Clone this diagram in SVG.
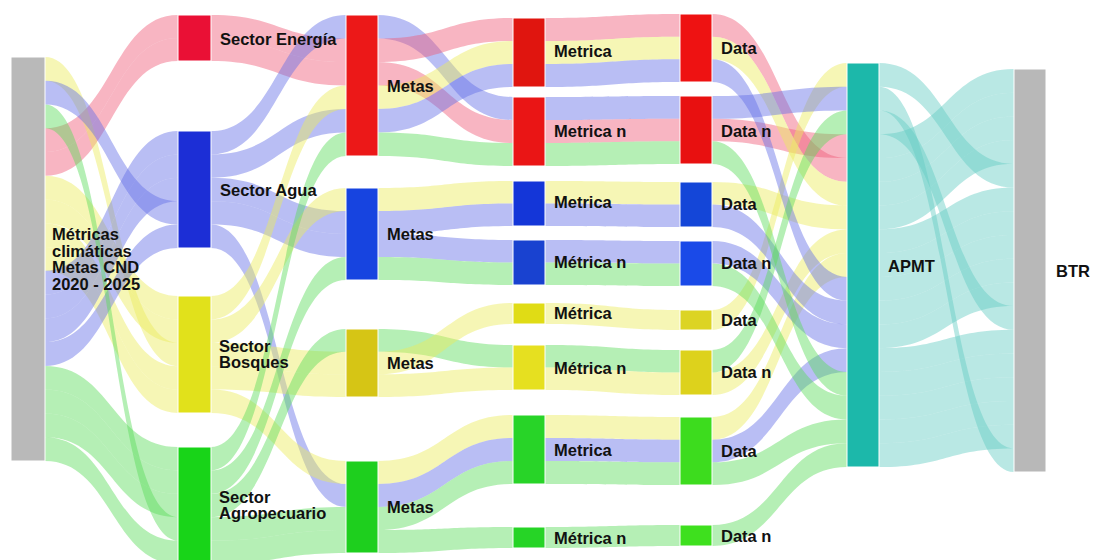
<svg xmlns="http://www.w3.org/2000/svg" width="1093" height="560" viewBox="0 0 1093 560">
<style>
.l{stroke:none;fill-opacity:0.45}
.p{fill:#f05a78}.b{fill:#646ee6}.y{fill:#ebeb5a}.g{fill:#5adc5a}.t{fill:#63ccc3}
.n{stroke:#ffffff;stroke-width:1}
text{font-family:"Liberation Sans",Arial,sans-serif;font-weight:bold;font-size:16.5px;fill:#111111}
</style>
<rect width="1093" height="560" fill="#ffffff"/>
<g id="connectors">
<g id="stage1">
<path class="l p" d="M45 128.3C111.5 128.3 111.5 15 178 15L178 38C111.5 38 111.5 152 45 152Z"/>
<path class="l p" d="M45 152C111.5 152 111.5 38 178 38L178 61C111.5 61 111.5 175.8 45 175.8Z"/>
<path class="l y" d="M45 57C111.5 57 111.5 342.8 178 342.8L178 366.2C111.5 366.2 111.5 80.8 45 80.8Z"/>
<path class="l y" d="M45 175.8C111.5 175.8 111.5 296 178 296L178 319.4C111.5 319.4 111.5 199.6 45 199.6Z"/>
<path class="l y" d="M45 199.6C111.5 199.6 111.5 319.4 178 319.4L178 342.8C111.5 342.8 111.5 223.3 45 223.3Z"/>
<path class="l y" d="M45 223.3C111.5 223.3 111.5 366.2 178 366.2L178 389.6C111.5 389.6 111.5 247.1 45 247.1Z"/>
<path class="l y" d="M45 247.1C111.5 247.1 111.5 389.6 178 389.6L178 413C111.5 413 111.5 270.8 45 270.8Z"/>
<path class="l b" d="M45 80.8C111.5 80.8 111.5 201.2 178 201.2L178 224.6C111.5 224.6 111.5 104.5 45 104.5Z"/>
<path class="l b" d="M45 270.8C111.5 270.8 111.5 131 178 131L178 154.4C111.5 154.4 111.5 294.6 45 294.6Z"/>
<path class="l b" d="M45 294.6C111.5 294.6 111.5 154.4 178 154.4L178 177.8C111.5 177.8 111.5 318.4 45 318.4Z"/>
<path class="l b" d="M45 318.4C111.5 318.4 111.5 177.8 178 177.8L178 201.2C111.5 201.2 111.5 342.1 45 342.1Z"/>
<path class="l b" d="M45 342.1C111.5 342.1 111.5 224.6 178 224.6L178 248C111.5 248 111.5 365.9 45 365.9Z"/>
<path class="l g" d="M45 104.5C111.5 104.5 111.5 517.2 178 517.2L178 540.6C111.5 540.6 111.5 128.3 45 128.3Z"/>
<path class="l g" d="M45 365.9C111.5 365.9 111.5 447 178 447L178 470.4C111.5 470.4 111.5 389.6 45 389.6Z"/>
<path class="l g" d="M45 389.6C111.5 389.6 111.5 470.4 178 470.4L178 493.8C111.5 493.8 111.5 413.4 45 413.4Z"/>
<path class="l g" d="M45 413.4C111.5 413.4 111.5 493.8 178 493.8L178 517.2C111.5 517.2 111.5 437.2 45 437.2Z"/>
<path class="l g" d="M45 437.2C111.5 437.2 111.5 540.6 178 540.6L178 564C111.5 564 111.5 461 45 461Z"/>
</g>
<g id="stage2">
<path class="l p" d="M211 15C278.5 15 278.5 38.5 346 38.5L346 62C278.5 62 278.5 38 211 38Z"/>
<path class="l p" d="M211 38C278.5 38 278.5 62 346 62L346 85.5C278.5 85.5 278.5 61 211 61Z"/>
<path class="l b" d="M211 131C278.5 131 278.5 15 346 15L346 38.5C278.5 38.5 278.5 154.4 211 154.4Z"/>
<path class="l b" d="M211 154.4C278.5 154.4 278.5 109 346 109L346 132.5C278.5 132.5 278.5 177.8 211 177.8Z"/>
<path class="l b" d="M211 177.8C278.5 177.8 278.5 211 346 211L346 234C278.5 234 278.5 201.2 211 201.2Z"/>
<path class="l b" d="M211 201.2C278.5 201.2 278.5 234 346 234L346 257C278.5 257 278.5 224.6 211 224.6Z"/>
<path class="l b" d="M211 224.6C278.5 224.6 278.5 484 346 484L346 507C278.5 507 278.5 248 211 248Z"/>
<path class="l y" d="M211 296C278.5 296 278.5 85.5 346 85.5L346 109C278.5 109 278.5 319.4 211 319.4Z"/>
<path class="l y" d="M211 319.4C278.5 319.4 278.5 188 346 188L346 211C278.5 211 278.5 342.8 211 342.8Z"/>
<path class="l y" d="M211 342.8C278.5 342.8 278.5 351.7 346 351.7L346 374.3C278.5 374.3 278.5 366.2 211 366.2Z"/>
<path class="l y" d="M211 366.2C278.5 366.2 278.5 374.3 346 374.3L346 397C278.5 397 278.5 389.6 211 389.6Z"/>
<path class="l y" d="M211 389.6C278.5 389.6 278.5 461 346 461L346 484C278.5 484 278.5 413 211 413Z"/>
<path class="l g" d="M211 447C278.5 447 278.5 132.5 346 132.5L346 156C278.5 156 278.5 470.4 211 470.4Z"/>
<path class="l g" d="M211 470.4C278.5 470.4 278.5 257 346 257L346 280C278.5 280 278.5 493.8 211 493.8Z"/>
<path class="l g" d="M211 493.8C278.5 493.8 278.5 329 346 329L346 351.7C278.5 351.7 278.5 517.2 211 517.2Z"/>
<path class="l g" d="M211 517.2C278.5 517.2 278.5 507 346 507L346 530C278.5 530 278.5 540.6 211 540.6Z"/>
<path class="l g" d="M211 540.6C278.5 540.6 278.5 530 346 530L346 553C278.5 553 278.5 564 211 564Z"/>
</g>
<g id="stage3">
<path class="l b" d="M378 15C445.5 15 445.5 97 513 97L513 120C445.5 120 445.5 38.5 378 38.5Z"/>
<path class="l p" d="M378 38.5C445.5 38.5 445.5 18 513 18L513 41C445.5 41 445.5 62 378 62Z"/>
<path class="l p" d="M378 62C445.5 62 445.5 120 513 120L513 143C445.5 143 445.5 85.5 378 85.5Z"/>
<path class="l y" d="M378 85.5C445.5 85.5 445.5 41 513 41L513 64C445.5 64 445.5 109 378 109Z"/>
<path class="l b" d="M378 109C445.5 109 445.5 64 513 64L513 87C445.5 87 445.5 132.5 378 132.5Z"/>
<path class="l g" d="M378 132.5C445.5 132.5 445.5 143 513 143L513 166C445.5 166 445.5 156 378 156Z"/>
<path class="l y" d="M378 188C445.5 188 445.5 181 513 181L513 203.5C445.5 203.5 445.5 211 378 211Z"/>
<path class="l b" d="M378 211C445.5 211 445.5 203.5 513 203.5L513 226C445.5 226 445.5 234 378 234Z"/>
<path class="l b" d="M378 234C445.5 234 445.5 240 513 240L513 262.5C445.5 262.5 445.5 257 378 257Z"/>
<path class="l g" d="M378 257C445.5 257 445.5 262.5 513 262.5L513 285C445.5 285 445.5 280 378 280Z"/>
<path class="l g" d="M378 329C445.5 329 445.5 345 513 345L513 367.5C445.5 367.5 445.5 351.7 378 351.7Z"/>
<path class="l y" d="M378 351.7C445.5 351.7 445.5 303 513 303L513 324C445.5 324 445.5 374.3 378 374.3Z"/>
<path class="l y" d="M378 374.3C445.5 374.3 445.5 367.5 513 367.5L513 390C445.5 390 445.5 397 378 397Z"/>
<path class="l y" d="M378 461C445.5 461 445.5 415 513 415L513 438C445.5 438 445.5 484 378 484Z"/>
<path class="l b" d="M378 484C445.5 484 445.5 438 513 438L513 461C445.5 461 445.5 507 378 507Z"/>
<path class="l g" d="M378 507C445.5 507 445.5 461 513 461L513 484C445.5 484 445.5 530 378 530Z"/>
<path class="l g" d="M378 530C445.5 530 445.5 527 513 527L513 548C445.5 548 445.5 553 378 553Z"/>
</g>
<g id="stage4">
<path class="l p" d="M545 18C612.5 18 612.5 14 680 14L680 36.7C612.5 36.7 612.5 41 545 41Z"/>
<path class="l y" d="M545 41C612.5 41 612.5 36.7 680 36.7L680 59.3C612.5 59.3 612.5 64 545 64Z"/>
<path class="l b" d="M545 64C612.5 64 612.5 59.3 680 59.3L680 82C612.5 82 612.5 87 545 87Z"/>
<path class="l b" d="M545 97C612.5 97 612.5 96 680 96L680 118.7C612.5 118.7 612.5 120 545 120Z"/>
<path class="l p" d="M545 120C612.5 120 612.5 118.7 680 118.7L680 141.3C612.5 141.3 612.5 143 545 143Z"/>
<path class="l g" d="M545 143C612.5 143 612.5 141.3 680 141.3L680 164C612.5 164 612.5 166 545 166Z"/>
<path class="l y" d="M545 181C612.5 181 612.5 182 680 182L680 204.5C612.5 204.5 612.5 203.5 545 203.5Z"/>
<path class="l b" d="M545 203.5C612.5 203.5 612.5 204.5 680 204.5L680 227C612.5 227 612.5 226 545 226Z"/>
<path class="l b" d="M545 240C612.5 240 612.5 241 680 241L680 263.5C612.5 263.5 612.5 262.5 545 262.5Z"/>
<path class="l g" d="M545 262.5C612.5 262.5 612.5 263.5 680 263.5L680 286C612.5 286 612.5 285 545 285Z"/>
<path class="l y" d="M545 303C612.5 303 612.5 310 680 310L680 330C612.5 330 612.5 324 545 324Z"/>
<path class="l g" d="M545 345C612.5 345 612.5 350 680 350L680 372.5C612.5 372.5 612.5 367.5 545 367.5Z"/>
<path class="l y" d="M545 367.5C612.5 367.5 612.5 372.5 680 372.5L680 395C612.5 395 612.5 390 545 390Z"/>
<path class="l y" d="M545 415C612.5 415 612.5 417 680 417L680 439.7C612.5 439.7 612.5 438 545 438Z"/>
<path class="l b" d="M545 438C612.5 438 612.5 439.7 680 439.7L680 462.3C612.5 462.3 612.5 461 545 461Z"/>
<path class="l g" d="M545 461C612.5 461 612.5 462.3 680 462.3L680 485C612.5 485 612.5 484 545 484Z"/>
<path class="l g" d="M545 527C612.5 527 612.5 525 680 525L680 546C612.5 546 612.5 548 545 548Z"/>
</g>
<g id="stage5">
<path class="l p" d="M712 14C779.5 14 779.5 158.1 847 158.1L847 181.8C779.5 181.8 779.5 36.7 712 36.7Z"/>
<path class="l p" d="M712 118.7C779.5 118.7 779.5 134.3 847 134.3L847 158.1C779.5 158.1 779.5 141.3 712 141.3Z"/>
<path class="l y" d="M712 310C779.5 310 779.5 63 847 63L847 86.8C779.5 86.8 779.5 330 712 330Z"/>
<path class="l y" d="M712 36.7C779.5 36.7 779.5 181.8 847 181.8L847 205.6C779.5 205.6 779.5 59.3 712 59.3Z"/>
<path class="l y" d="M712 182C779.5 182 779.5 205.6 847 205.6L847 229.4C779.5 229.4 779.5 204.5 712 204.5Z"/>
<path class="l y" d="M712 372.5C779.5 372.5 779.5 229.4 847 229.4L847 253.1C779.5 253.1 779.5 395 712 395Z"/>
<path class="l y" d="M712 417C779.5 417 779.5 253.1 847 253.1L847 276.9C779.5 276.9 779.5 439.7 712 439.7Z"/>
<path class="l b" d="M712 96C779.5 96 779.5 86.8 847 86.8L847 110.5C779.5 110.5 779.5 118.7 712 118.7Z"/>
<path class="l b" d="M712 59.3C779.5 59.3 779.5 276.9 847 276.9L847 300.6C779.5 300.6 779.5 82 712 82Z"/>
<path class="l b" d="M712 204.5C779.5 204.5 779.5 300.6 847 300.6L847 324.4C779.5 324.4 779.5 227 712 227Z"/>
<path class="l b" d="M712 241C779.5 241 779.5 324.4 847 324.4L847 348.2C779.5 348.2 779.5 263.5 712 263.5Z"/>
<path class="l b" d="M712 439.7C779.5 439.7 779.5 348.2 847 348.2L847 371.9C779.5 371.9 779.5 462.3 712 462.3Z"/>
<path class="l g" d="M712 350C779.5 350 779.5 110.5 847 110.5L847 134.3C779.5 134.3 779.5 372.5 712 372.5Z"/>
<path class="l g" d="M712 141.3C779.5 141.3 779.5 371.9 847 371.9L847 395.7C779.5 395.7 779.5 164 712 164Z"/>
<path class="l g" d="M712 263.5C779.5 263.5 779.5 395.7 847 395.7L847 419.5C779.5 419.5 779.5 286 712 286Z"/>
<path class="l g" d="M712 462.3C779.5 462.3 779.5 419.5 847 419.5L847 443.2C779.5 443.2 779.5 485 712 485Z"/>
<path class="l g" d="M712 525C779.5 525 779.5 443.2 847 443.2L847 467C779.5 467 779.5 546 712 546Z"/>
</g>
<g id="stage6">
<path class="l t" d="M879 63C946.5 63 946.5 163.8 1014 163.8L1014 187.6C946.5 187.6 946.5 86.8 879 86.8Z"/>
<path class="l t" d="M879 86.8C946.5 86.8 946.5 448.4 1014 448.4L1014 472C946.5 472 946.5 110.5 879 110.5Z"/>
<path class="l t" d="M879 110.5C946.5 110.5 946.5 306.1 1014 306.1L1014 329.8C946.5 329.8 946.5 134.3 879 134.3Z"/>
<path class="l t" d="M879 134.3C946.5 134.3 946.5 69 1014 69L1014 92.7C946.5 92.7 946.5 158.1 879 158.1Z"/>
<path class="l t" d="M879 158.1C946.5 158.1 946.5 92.7 1014 92.7L1014 116.4C946.5 116.4 946.5 181.8 879 181.8Z"/>
<path class="l t" d="M879 181.8C946.5 181.8 946.5 116.4 1014 116.4L1014 140.1C946.5 140.1 946.5 205.6 879 205.6Z"/>
<path class="l t" d="M879 205.6C946.5 205.6 946.5 140.1 1014 140.1L1014 163.8C946.5 163.8 946.5 229.4 879 229.4Z"/>
<path class="l t" d="M879 229.4C946.5 229.4 946.5 187.6 1014 187.6L1014 211.3C946.5 211.3 946.5 253.1 879 253.1Z"/>
<path class="l t" d="M879 253.1C946.5 253.1 946.5 211.3 1014 211.3L1014 235C946.5 235 946.5 276.9 879 276.9Z"/>
<path class="l t" d="M879 276.9C946.5 276.9 946.5 235 1014 235L1014 258.7C946.5 258.7 946.5 300.6 879 300.6Z"/>
<path class="l t" d="M879 300.6C946.5 300.6 946.5 258.7 1014 258.7L1014 282.4C946.5 282.4 946.5 324.4 879 324.4Z"/>
<path class="l t" d="M879 324.4C946.5 324.4 946.5 282.4 1014 282.4L1014 306.1C946.5 306.1 946.5 348.2 879 348.2Z"/>
<path class="l t" d="M879 348.2C946.5 348.2 946.5 329.8 1014 329.8L1014 353.5C946.5 353.5 946.5 371.9 879 371.9Z"/>
<path class="l t" d="M879 371.9C946.5 371.9 946.5 353.5 1014 353.5L1014 377.2C946.5 377.2 946.5 395.7 879 395.7Z"/>
<path class="l t" d="M879 395.7C946.5 395.7 946.5 377.2 1014 377.2L1014 401C946.5 401 946.5 419.5 879 419.5Z"/>
<path class="l t" d="M879 419.5C946.5 419.5 946.5 401 1014 401L1014 424.7C946.5 424.7 946.5 443.2 879 443.2Z"/>
<path class="l t" d="M879 443.2C946.5 443.2 946.5 424.7 1014 424.7L1014 448.4C946.5 448.4 946.5 467 879 467Z"/>
</g>
</g>
<g id="node-source"><rect class="n" x="11" y="57" width="34" height="404" fill="#b9b9b9"/>
<text x="52" y="240">Métricas</text><text x="52" y="257">climáticas</text><text x="52" y="273">Metas CND</text><text x="52" y="290">2020 - 2025</text></g>
<g id="node-energia"><rect class="n" x="178" y="15" width="33" height="46" fill="#ea1035"/><text x="220" y="45">Sector Energía</text></g>
<g id="node-agua"><rect class="n" x="178" y="131" width="33" height="117" fill="#1c2ed6"/><text x="220" y="196">Sector Agua</text></g>
<g id="node-bosques"><rect class="n" x="178" y="296" width="33" height="117" fill="#e1e11b"/><text x="219" y="352">Sector</text><text x="219" y="368">Bosques</text></g>
<g id="node-agro"><rect class="n" x="178" y="447" width="33" height="117" fill="#18d418"/><text x="219" y="503">Sector</text><text x="219" y="519">Agropecuario</text></g>
<g id="node-metas-red"><rect class="n" x="346" y="15" width="32" height="141" fill="#ec1818"/><text x="387" y="92">Metas</text></g>
<g id="node-metas-blue"><rect class="n" x="346" y="188" width="32" height="92" fill="#1744e0"/><text x="387" y="240">Metas</text></g>
<g id="node-metas-yellow"><rect class="n" x="346" y="329" width="32" height="68" fill="#d6c515"/><text x="387" y="369">Metas</text></g>
<g id="node-metas-green"><rect class="n" x="346" y="461" width="32" height="92" fill="#1ecf1e"/><text x="387" y="513">Metas</text></g>
<g id="node-metrica-red"><rect class="n" x="513" y="18" width="32" height="69" fill="#e0150f"/><text x="554" y="57">Metrica</text></g>
<g id="node-metrican-red"><rect class="n" x="513" y="97" width="32" height="69" fill="#ea1515"/><text x="554" y="137">Metrica n</text></g>
<g id="node-metrica-blue"><rect class="n" x="513" y="181" width="32" height="45" fill="#1436d8"/><text x="554" y="208">Metrica</text></g>
<g id="node-metrican-blue"><rect class="n" x="513" y="240" width="32" height="45" fill="#1942d0"/><text x="554" y="268">Métrica n</text></g>
<g id="node-metrica-yellow"><rect class="n" x="513" y="303" width="32" height="21" fill="#e0dc15"/><text x="554" y="319">Métrica</text></g>
<g id="node-metrican-yellow"><rect class="n" x="513" y="345" width="32" height="45" fill="#e6e020"/><text x="554" y="374">Métrica n</text></g>
<g id="node-metrica-green"><rect class="n" x="513" y="415" width="32" height="69" fill="#28d428"/><text x="554" y="456">Metrica</text></g>
<g id="node-metrican-green"><rect class="n" x="513" y="527" width="32" height="21" fill="#26d426"/><text x="554" y="544">Métrica n</text></g>
<g id="node-data-red"><rect class="n" x="680" y="14" width="32" height="68" fill="#ee1212"/><text x="721" y="54">Data</text></g>
<g id="node-datan-red"><rect class="n" x="680" y="96" width="32" height="68" fill="#e81010"/><text x="721" y="137">Data n</text></g>
<g id="node-data-blue"><rect class="n" x="680" y="182" width="32" height="45" fill="#1446d8"/><text x="721" y="210">Data</text></g>
<g id="node-datan-blue"><rect class="n" x="680" y="241" width="32" height="45" fill="#1a4ae8"/><text x="721" y="269">Data n</text></g>
<g id="node-data-yellow"><rect class="n" x="680" y="310" width="32" height="20" fill="#dcd424"/><text x="721" y="326">Data</text></g>
<g id="node-datan-yellow"><rect class="n" x="680" y="350" width="32" height="45" fill="#ddd21c"/><text x="721" y="378">Data n</text></g>
<g id="node-data-green"><rect class="n" x="680" y="417" width="32" height="68" fill="#3ddc1e"/><text x="721" y="457">Data</text></g>
<g id="node-datan-green"><rect class="n" x="680" y="525" width="32" height="21" fill="#3ee01e"/><text x="721" y="542">Data n</text></g>
<g id="node-apmt"><rect class="n" x="847" y="63" width="32" height="404" fill="#1cb8aa"/><text x="888" y="272">APMT</text></g>
<g id="node-btr"><rect class="n" x="1014" y="69" width="32" height="403" fill="#b8b8b8"/><text x="1056" y="277">BTR</text></g>
</svg>
